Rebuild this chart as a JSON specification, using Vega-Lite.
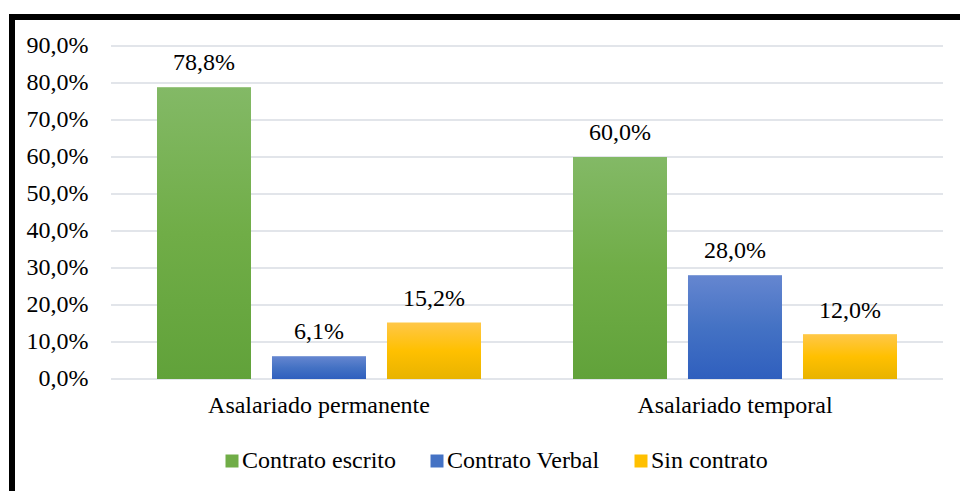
{
  "$schema": "https://vega.github.io/schema/vega-lite/v6.json",
  "width": 948,
  "height": 474,
  "autosize": "none",
  "padding": {"left": 12, "top": 17, "right": 0, "bottom": 0},
  "background": "#ffffff",
  "config": {
    "font": "Liberation Serif",
    "locale": {"number": {"decimal": ",", "thousands": ".", "grouping": [3], "currency": ["", " €"]}},
    "view": {"stroke": "#000000", "strokeWidth": 6, "strokeDash": [948, 1422, 474], "strokeCap": "square"},
    "axisX": {"orient": "bottom", "offset": -112, "domain": false, "ticks": false, "labelPadding": 14, "labelAngle": 0, "labelFont": "Liberation Serif", "labelFontSize": 24, "labelColor": "#000000", "labelLimit": 400, "grid": false, "title": null},
    "axisY": {"domain": false, "ticks": false, "grid": false, "offset": -80, "labelPadding": 4, "labelFont": "Liberation Serif", "labelFontSize": 24, "labelColor": "#000000", "title": null},
    "legend": {
      "orient": "none",
      "legendX": 208,
      "legendY": 432,
      "direction": "horizontal",
      "symbolType": "square",
      "symbolSize": 169,
      "symbolStrokeWidth": 0,
      "symbolOpacity": 1,
      "labelFont": "Liberation Serif",
      "labelFontSize": 24,
      "labelColor": "#000000",
      "labelOffset": -2,
      "columnPadding": 29,
      "labelLimit": 400
    }
  },
  "datasets": {
    "main": [
      {"grupo": "Asalariado permanente", "tipo": "Contrato escrito", "valor": 0.788},
      {"grupo": "Asalariado permanente", "tipo": "Contrato Verbal", "valor": 0.061},
      {"grupo": "Asalariado permanente", "tipo": "Sin contrato", "valor": 0.152},
      {"grupo": "Asalariado temporal", "tipo": "Contrato escrito", "valor": 0.6},
      {"grupo": "Asalariado temporal", "tipo": "Contrato Verbal", "valor": 0.28},
      {"grupo": "Asalariado temporal", "tipo": "Sin contrato", "valor": 0.12}
    ],
    "grid": [{"valor": 0}, {"valor": 0.1}, {"valor": 0.2}, {"valor": 0.3}, {"valor": 0.4}, {"valor": 0.5}, {"valor": 0.6}, {"valor": 0.7}, {"valor": 0.8}, {"valor": 0.9}]
  },
  "layer": [
    {
      "data": {"name": "grid"},
      "mark": {"type": "rule", "color": "#d9dce3", "strokeWidth": 1.5},
      "encoding": {
        "y": {"field": "valor", "type": "quantitative", "scale": {"domain": [-0.302703, 0.978378], "nice": false, "zero": false},
          "axis": {"values": [0, 0.1, 0.2, 0.3, 0.4, 0.5, 0.6, 0.7, 0.8, 0.9], "format": ".1%", "title": null}},
        "x": {"datum": "Asalariado permanente", "type": "nominal", "bandPosition": 0, "scale": {"domain": ["Asalariado permanente", "Asalariado temporal"], "paddingInner": 0, "paddingOuter": 0.139423, "align": 0.85345}, "axis": {"title": null}},
        "x2": {"datum": "Asalariado temporal", "bandPosition": 1}
      }
    },
    {
      "data": {"name": "main"},
      "mark": {"type": "bar", "opacity": 1},
      "encoding": {
        "x": {"field": "grupo", "type": "nominal", "scale": {"domain": ["Asalariado permanente", "Asalariado temporal"], "paddingInner": 0, "paddingOuter": 0.139423, "align": 0.85345}, "axis": {"title": null}},
        "xOffset": {"field": "tipo", "type": "nominal", "sort": ["Contrato escrito", "Contrato Verbal", "Sin contrato"], "scale": {"domain": ["Contrato escrito", "Contrato Verbal", "Sin contrato"], "paddingInner": 0.1826, "paddingOuter": 0.4}},
        "y": {"field": "valor", "type": "quantitative", "scale": {"domain": [-0.302703, 0.978378], "nice": false, "zero": false},
          "axis": {"values": [0, 0.1, 0.2, 0.3, 0.4, 0.5, 0.6, 0.7, 0.8, 0.9], "format": ".1%", "title": null}},
        "color": {"field": "tipo", "type": "nominal", "title": null,
          "scale": {"domain": ["Contrato escrito", "Contrato Verbal", "Sin contrato"], "range": ["#70ad47", "#4472c4", "#ffc000"]}}
      }
    },
    {
      "data": {"name": "main"},
      "mark": {"type": "bar", "opacity": 1},
      "encoding": {
        "x": {"field": "grupo", "type": "nominal", "scale": {"domain": ["Asalariado permanente", "Asalariado temporal"], "paddingInner": 0, "paddingOuter": 0.139423, "align": 0.85345}, "axis": {"title": null}},
        "xOffset": {"field": "tipo", "type": "nominal", "sort": ["Contrato escrito", "Contrato Verbal", "Sin contrato"], "scale": {"domain": ["Contrato escrito", "Contrato Verbal", "Sin contrato"], "paddingInner": 0.1826, "paddingOuter": 0.4}},
        "y": {"field": "valor", "type": "quantitative", "scale": {"domain": [-0.302703, 0.978378], "nice": false, "zero": false},
          "axis": {"values": [0, 0.1, 0.2, 0.3, 0.4, 0.5, 0.6, 0.7, 0.8, 0.9], "format": ".1%", "title": null}},
        "color": {
          "condition": [
            {"test": "datum.tipo === 'Contrato escrito'", "value": {"gradient": "linear", "x1": 0, "y1": 0, "x2": 0, "y2": 1, "stops": [{"offset": 0, "color": "#83b966"}, {"offset": 0.5, "color": "#70ad47"}, {"offset": 1, "color": "#61a23a"}]}},
            {"test": "datum.tipo === 'Contrato Verbal'", "value": {"gradient": "linear", "x1": 0, "y1": 0, "x2": 0, "y2": 1, "stops": [{"offset": 0, "color": "#6586d0"}, {"offset": 0.5, "color": "#4472c4"}, {"offset": 1, "color": "#2f5fbe"}]}}
          ],
          "value": {"gradient": "linear", "x1": 0, "y1": 0, "x2": 0, "y2": 1, "stops": [{"offset": 0, "color": "#ffc748"}, {"offset": 0.5, "color": "#ffc000"}, {"offset": 1, "color": "#e8b300"}]}
        }
      }
    },
    {
      "data": {"name": "main"},
      "mark": {"type": "text", "baseline": "alphabetic", "dy": -17, "fontSize": 24, "font": "Liberation Serif", "color": "#000000"},
      "encoding": {
        "x": {"field": "grupo", "type": "nominal", "scale": {"domain": ["Asalariado permanente", "Asalariado temporal"], "paddingInner": 0, "paddingOuter": 0.139423, "align": 0.85345}, "axis": {"title": null}},
        "xOffset": {"field": "tipo", "type": "nominal", "sort": ["Contrato escrito", "Contrato Verbal", "Sin contrato"], "scale": {"domain": ["Contrato escrito", "Contrato Verbal", "Sin contrato"], "paddingInner": 0.1826, "paddingOuter": 0.4}},
        "y": {"field": "valor", "type": "quantitative", "scale": {"domain": [-0.302703, 0.978378], "nice": false, "zero": false},
          "axis": {"values": [0, 0.1, 0.2, 0.3, 0.4, 0.5, 0.6, 0.7, 0.8, 0.9], "format": ".1%", "title": null}},
        "text": {"field": "valor", "type": "quantitative", "format": ".1%"}
      }
    }
  ]
}
